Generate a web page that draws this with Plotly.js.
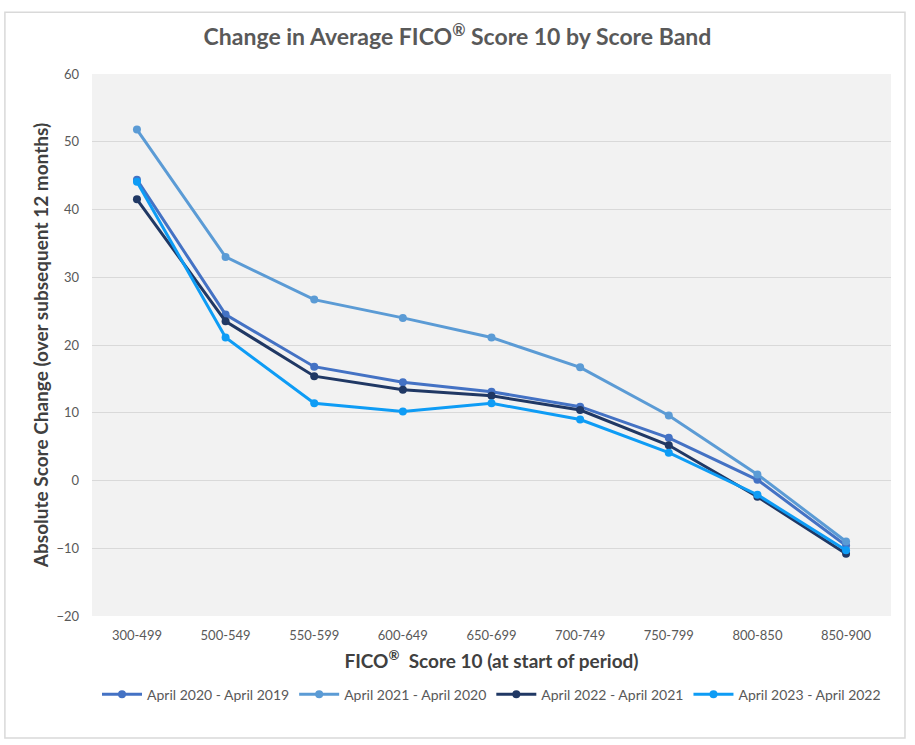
<!DOCTYPE html>
<html>
<head>
<meta charset="utf-8">
<script src="https://cdn.plot.ly/plotly-3.0.1.min.js"></script>
<style>html,body{margin:0;padding:0;background:#fff;}#chart{width:915px;height:745px;}</style>
</head>
<body>
<div id="chart"></div>
<script>
const categories = ["300-499","500-549","550-599","600-649","650-699","700-749","750-799","800-850","850-900"];
const seriesNames = ["April 2020 - April 2019","April 2021 - April 2020","April 2022 - April 2021","April 2023 - April 2022"];
const apr2020 = [44.4, 24.5, 16.8, 14.5, 13.1, 10.9, 6.3, 0.1, -9.6];
const apr2021 = [51.8, 33.0, 26.7, 24.0, 21.1, 16.7, 9.6, 0.9, -9.0];
const apr2022 = [41.5, 23.5, 15.4, 13.4, 12.5, 10.4, 5.2, -2.4, -10.8];
const apr2023 = [44.1, 21.1, 11.4, 10.2, 11.4, 9.0, 4.1, -2.1, -10.3];
const colors = ["#4472C4", "#5B9BD5", "#203864", "#0E9CF5"];

const allSeries = [apr2020, apr2021, apr2022, apr2023];
const traces = allSeries.map((vals, i) => ({
  x: categories, y: vals, name: seriesNames[i], type: "scatter", mode: "lines+markers",
  line: {color: colors[i], width: 3},
  marker: {color: colors[i], size: 8}
}));

const layout = {
  width: 915, height: 745,
  margin: {l: 92, r: 24, t: 74, b: 129},
  paper_bgcolor: "#ffffff", plot_bgcolor: "#F2F2F2",
  font: {family: "Lato, 'Open Sans', sans-serif", color: "#595959"},
  title: {text: "Change in Average FICO<sup>®</sup> Score 10 by Score Band", x: 0.5, xanchor: "center", y: 0.95, yanchor: "middle",
          font: {size: 23, color: "#595959", family: "Lato, sans-serif", weight: "bold"}},
  xaxis: {type: "category", showgrid: false, zeroline: false, showline: false, ticks: "",
          tickfont: {size: 13, color: "#595959"}, ticklabelstandoff: 10,
          title: {text: "FICO<sup>®</sup>  Score 10 (at start of period)", standoff: 12, font: {size: 19, color: "#404040", weight: "bold"}}},
  yaxis: {range: [-20, 60], dtick: 10, showgrid: true, gridcolor: "#D9D9D9", gridwidth: 1, zeroline: false,
          showline: false, ticks: "", tickfont: {size: 13, color: "#595959"}, ticklabelstandoff: 12,
          title: {text: "Absolute Score Change (over subsequent 12 months)", standoff: 2, font: {size: 19, color: "#404040", weight: "bold"}}},
  legend: {orientation: "h", x: 0.5, xanchor: "center", y: -0.145, yanchor: "middle",
           font: {size: 14, color: "#595959"}, itemwidth: 40, tracegroupgap: 0},
  showlegend: true,
  shapes: [{type: "rect", xref: "paper", yref: "paper", x0: -0.109, x1: 1.0175, y0: -0.225, y1: 1.114,
            line: {color: "#D9D9D9", width: 1.5}, fillcolor: "rgba(0,0,0,0)", layer: "below"}]
};

Plotly.newPlot("chart", traces, layout, {displayModeBar: false, responsive: false});
</script>
</body>
</html>
